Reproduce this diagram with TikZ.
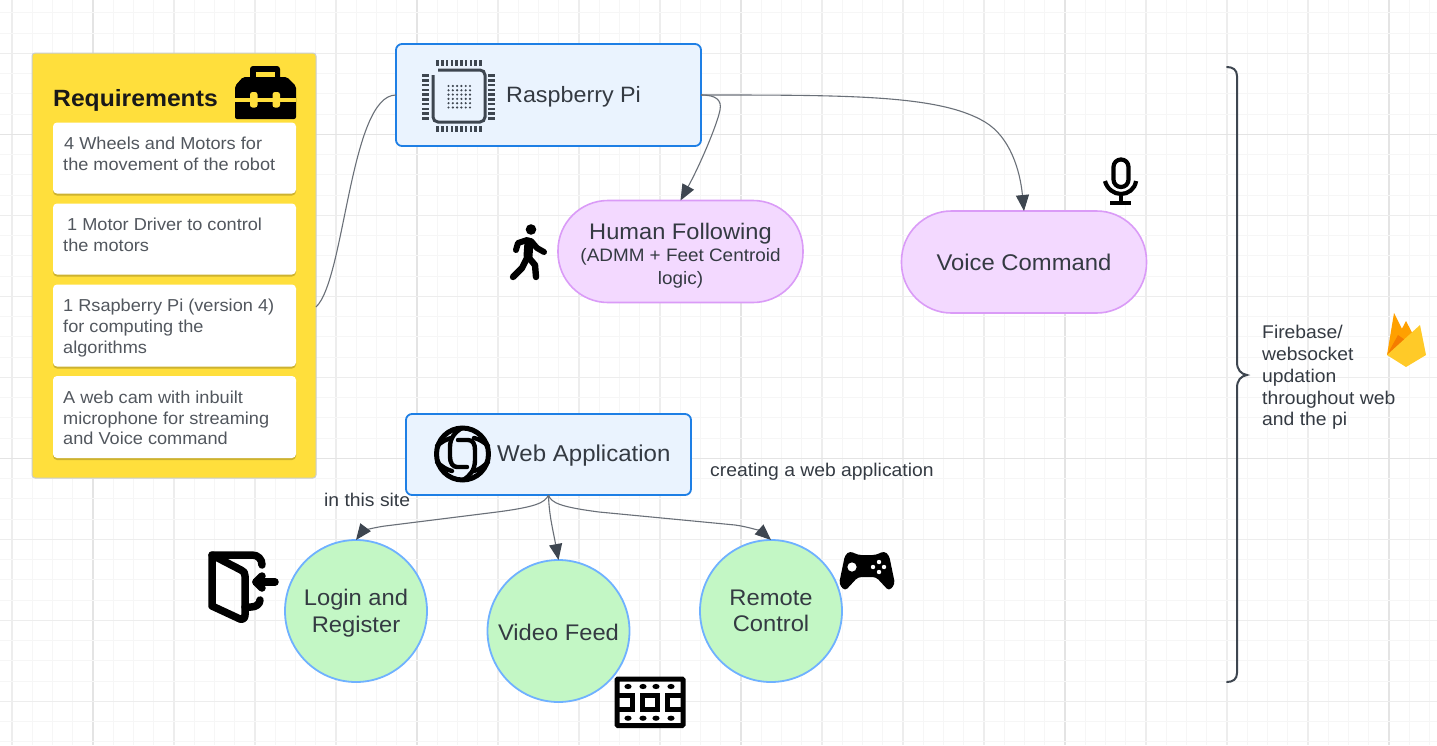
\documentclass[tikz,border=0pt]{standalone}
\usepackage{fontspec}
\setmainfont[FakeStretch=1.05]{Liberation Sans}
\usetikzlibrary{arrows.meta,calc}
\definecolor{gridmin}{HTML}{F6F6F6}
\definecolor{gridmed}{HTML}{EDEDED}
\definecolor{gridmaj}{HTML}{E4E4E4}
\definecolor{ink}{HTML}{343A42}
\definecolor{wire}{HTML}{6A7078}
\definecolor{tipc}{HTML}{3E4650}
\definecolor{reqfill}{HTML}{FFDF3C}
\definecolor{reqedge}{HTML}{C9CDD0}
\definecolor{shade}{HTML}{CDB22F}
\definecolor{bluefill}{HTML}{EAF3FE}
\definecolor{blueedge}{HTML}{1E7FE5}
\definecolor{pinkfill}{HTML}{F3D9FF}
\definecolor{pinkedge}{HTML}{DA9BF7}
\definecolor{greenfill}{HTML}{C3F7C5}
\definecolor{greenedge}{HTML}{6FB1FF}
\definecolor{fireA}{HTML}{FFA000}
\definecolor{fireB}{HTML}{F57C00}
\definecolor{fireC}{HTML}{FFCA28}
\newcommand{\fsz}[2]{\fontsize{#1pt}{#2pt}\selectfont}
\tikzset{
  x=1pt,y=-1pt,
  panel/.style={draw=reqedge,fill=reqfill,line width=1pt,rounded corners=3pt,inner sep=0,outer sep=0,minimum width=284pt,minimum height=425pt},
  card/.style={fill=white,rounded corners=4pt,inner sep=0,outer sep=0,minimum width=243pt,
     preaction={fill=shade,transform canvas={yshift=-2pt}}},
  cardtext/.style={anchor=west,align=left,inner sep=0,text=ink!85,font=\fsz{17.3}{20.8}},
  bluebox/.style={draw=blueedge,fill=bluefill,line width=1.8pt,rounded corners=6pt,inner sep=0,outer sep=0},
  pill/.style={draw=pinkedge,fill=pinkfill,line width=1.6pt,rounded corners=50pt,inner sep=0,outer sep=0,minimum width=245pt,minimum height=102pt,align=center,text=ink},
  roundel/.style={circle,draw=greenedge,fill=greenfill,line width=1.8pt,inner sep=0,outer sep=0,minimum size=142pt,align=center,text=ink,font=\fsz{22.6}{26.5}},
  plain/.style={anchor=west,align=left,inner sep=0,text=ink,font=\fsz{18.4}{21.8}},
  wirecurve/.style={draw=wire,line width=1.1pt},
  arrowed/.style={wirecurve,-{Triangle[length=16pt,width=13pt,fill=tipc,color=tipc]}},
  iconline/.style={draw=black,line cap=round,line join=round},
}
\begin{document}
\begin{tikzpicture}
\useasboundingbox (0,0) rectangle (1437,745);
\fill[white] (0,0) rectangle (1437,745);
% grid
\foreach \i in {0,...,70}{
  \pgfmathsetmacro{\px}{12+20.25*\i}
  \pgfmathtruncatemacro{\ma}{mod(\i,4)}
  \pgfmathtruncatemacro{\mb}{mod(\i+12,16)}
  \ifnum\mb=0 \draw[gridmaj,line width=1.5pt] (\px,0)--(\px,745);
  \else\ifnum\ma=0 \draw[gridmed,line width=1.2pt] (\px,0)--(\px,745);
  \else \draw[gridmin,line width=1pt] (\px,0)--(\px,745);\fi\fi
}
\foreach \i in {0,...,36}{
  \pgfmathsetmacro{\py}{12.8+20.25*\i}
  \pgfmathtruncatemacro{\ma}{mod(\i+2,4)}
  \pgfmathtruncatemacro{\mb}{mod(\i+10,16)}
  \ifnum\mb=0 \draw[gridmaj,line width=1.5pt] (0,\py)--(1437,\py);
  \else\ifnum\ma=0 \draw[gridmed,line width=1.2pt] (0,\py)--(1437,\py);
  \else \draw[gridmin,line width=1pt] (0,\py)--(1437,\py);\fi\fi
}
% requirements panel
\node[panel] (req) at (174,265.5) {};
\node[anchor=west,inner sep=0,font=\fsz{23.5}{28}\bfseries,text=black!90] (reqtitle) at (53,100.5) {Requirements};
\node[card,minimum height=71pt] (c1) at (174.5,158) {};
\node[card,minimum height=71pt] (c2) at (174.5,239) {};
\node[card,minimum height=82pt] (c3) at (174.5,325.5) {};
\node[card,minimum height=82pt] (c4) at (174.5,417) {};
\node[cardtext] (t1) at (63,154) {\hspace{1pt}4 Wheels and Motors for\\the movement of the robot};
\node[cardtext] (t2) at (63,235) {\hspace{4pt}1 Motor Driver to control\\the motors};
\node[cardtext] (t3) at (63,328) {1 Rsapberry Pi (version 4)\\for computing the\\algorithms};
\node[cardtext] (t4) at (63,418) {A web cam with inbuilt\\microphone for streaming\\and Voice command};
% toolbox icon
\fill[black,rounded corners=3pt] (250,66) rectangle (280,82);
\fill[reqfill] (255.5,72) rectangle (274.5,78);
\fill[black,rounded corners=2pt] (235,86) -- (243,77) -- (287,77) -- (296,86) -- (296,119) -- (235,119) -- cycle;
\fill[reqfill] (235,98) rectangle (296,102);
\fill[reqfill,rounded corners=2.5pt] (250,92) rectangle (257.5,107.5);
\fill[reqfill,rounded corners=2.5pt] (272.5,92) rectangle (280,107.5);
% main boxes
\node[bluebox,minimum width=305pt,minimum height=102pt] (pi) at (548.5,95) {};
\node[anchor=west,inner sep=0,text=ink,font=\fsz{22.2}{28}] (pilabel) at (506,96.5) {Raspberry Pi};
\node[pill,font=\fsz{18}{23}] (hf) at (680.5,251.5) {\rule{0pt}{24pt}{\fsz{22.5}{27}Human Following}\\[-1pt](ADMM + Feet Centroid\\logic)};
\node[pill,font=\fsz{22.7}{28}] (vc) at (1024,262) {Voice Command};
\node[bluebox,minimum width=285pt,minimum height=81pt] (web) at (548.5,454.5) {};
\node[anchor=west,inner sep=0,text=ink,font=\fsz{22.9}{28}] (weblabel) at (497,456) {Web Application};
\node[roundel] (login) at (356,611) {\rule{0pt}{21pt}Login and\\Register};
\node[roundel] (video) at (558.5,631) {\rule{0pt}{20pt}Video Feed};
\node[roundel] (remote) at (771,611) {Remote\\Control};
\node[plain] (creating) at (710,472) {creating a web application};
\node[plain] (site) at (324,500) {in this site};
\node[plain] (fb) at (1262,377.5) {Firebase/\\websocket\\updation\\throughout web\\and the pi};
% connectors
\coordinate (reqout) at (316,307);
\draw[wirecurve] (reqout) .. controls (345,280) and (350,95) .. (pi.west);
\draw[arrowed] (pi.east) .. controls (716,95) and (722,100) .. (720,110) .. controls (717,125) and (700,165) .. (hf.north);
\draw[arrowed] (pi.east) .. controls (850,95) and (940,95) .. (985,122) .. controls (1010,137) and (1020,170) .. (vc.north);
\draw[arrowed] (web.south) .. controls (545,503) and (535,507) .. (497,512) -- (385,526) .. controls (370,528) and (362,532) .. (login.north);
\draw[arrowed] (web.south) .. controls (549,515) and (553,530) .. (video.north);
\draw[arrowed] (web.south) .. controls (551,503) and (561,507) .. (599,512) -- (735,525) .. controls (750,527) and (762,532) .. (remote.north);
% brace
\draw[tipc,line width=2pt,line cap=round] (1227,67) .. controls (1233,67) and (1237,70) .. (1237,76) -- (1237,362) .. controls (1237,370) and (1241,374) .. (1247,375) .. controls (1241,376) and (1237,380) .. (1237,388) -- (1237,673) .. controls (1237,679) and (1233,682) .. (1227,682);
% chip icon
\draw[tipc,line width=3pt,rounded corners=5pt] (438,70) -- (485,70) -- (485,122) -- (433,122) -- (433,75);
\foreach \k in {0,...,9}{
  \pgfmathsetmacro{\a}{437.5+4.75*\k}
  \pgfmathsetmacro{\b}{75.5+4.75*\k}
  \draw[tipc,line width=2.5pt] (\a,60)--(\a,66);
  \draw[tipc,line width=2.5pt] (\a,126)--(\a,132);
  \draw[tipc,line width=2.5pt] (422,\b)--(429,\b);
  \draw[tipc,line width=2.5pt] (488,\b)--(495,\b);
}
\foreach \i in {0,...,5}\foreach \j in {0,...,5}{
  \fill[tipc] (448.5+4.3*\i,86+4.3*\j) circle (1.2);
}
% globe icon
\draw[iconline,line width=5pt] (462.5,454) circle (26);
\begin{scope}[iconline,line width=4.4pt]
  \draw (458,440) -- (468,440) .. controls (473,440) and (475,444) .. (475,450) -- (475,460) .. controls (475,470) and (470,476) .. (463,480);
  \draw (467,467) -- (457,467) .. controls (453,467) and (450,463) .. (450,457) -- (450,447) .. controls (450,438) and (455,432) .. (462,428);
  \draw (437,446) .. controls (441,442) and (447,439) .. (451,438);
  \draw (437,462) .. controls (441,466) and (447,470) .. (452,471);
  \draw (488,446) .. controls (484,442) and (479,439) .. (474,438);
  \draw (488,462) .. controls (484,466) and (479,470) .. (474,471);
\end{scope}
% walking person
\fill[black] (531,229.5) circle (5.3);
\begin{scope}[iconline]
  \draw[line width=9pt] (529,242) -- (528,256);
  \draw[line width=6pt] (527,240) -- (518,243) -- (516,250);
  \draw[line width=6pt] (531,241) -- (537,248) -- (544,252);
  \draw[line width=6.4pt] (527,258) -- (522,268) -- (513,277);
  \draw[line width=6.4pt] (529,258) -- (535,265) -- (536,277);
\end{scope}
% microphone
\begin{scope}[iconline,line width=4.2pt,line cap=butt]
  \draw[rounded corners=7.4pt] (1113.5,159.5) rectangle (1128.5,187);
  \draw (1105,181) .. controls (1107,189) and (1114,194) .. (1121,194) .. controls (1128,194) and (1135,189) .. (1136,181);
  \draw (1121,194) -- (1121,203);
  \draw (1110,203) -- (1131,203);
\end{scope}
% firebase
\fill[fireA] (1387,355) -- (1394,313) -- (1410,345) -- cycle;
\fill[fireA] (1396,340) -- (1406,321) -- (1418,344) -- cycle;
\fill[fireB] (1387,355) -- (1398,335) -- (1405,340) -- cycle;
\fill[fireC] (1387,355) -- (1420,325) -- (1426,355) -- (1406,367) -- cycle;
% door icon
\begin{scope}[iconline,line width=7.5pt]
  \draw (212,555) -- (212,606) -- (240,619) .. controls (243,620) and (245,618) .. (245,615) -- (245,576) .. controls (245,573) and (244,571) .. (241,570) -- cycle;
  \draw (212,555) -- (252,555) .. controls (258,555) and (262,559) .. (262,565);
  \draw (245,607) -- (251,607) .. controls (256,607) and (260,604) .. (260,600);
  \draw (275,582) -- (256,582);
  \draw (262,576) -- (256,582) -- (262,588);
\end{scope}
% film icon
\draw[black,line width=5pt,rounded corners=1pt,fill=white] (617,679) rectangle (683,725.5);
\draw[black,line width=5pt] (642.5,695) rectangle (657,709.5);
\draw[black,line width=5pt] (617,695) -- (632.5,695) -- (632.5,709.5) -- (617,709.5);
\draw[black,line width=5pt] (683,695) -- (667.5,695) -- (667.5,709.5) -- (683,709.5);
\foreach \a in {628,643,656,671}{
  \fill[black] (\a,686.5) ellipse (3.6 and 2.6);
  \fill[black] (\a,718.2) ellipse (3.6 and 2.6);
}
% gamepad
\fill[black,rounded corners=3.5pt] (850,551) -- (858,555) -- (876,555) -- (884,551) -- (889,555) -- (895,584) -- (889,591) -- (876,577) -- (858,577) -- (845,591) -- (839,584) -- (845,555) -- cycle;
\fill[white] (852,567) circle (4.6);
\foreach \a/\b in {879/562,873/567,884/567,879/572}{\fill[white] (\a,\b) circle (2.2);}
\end{tikzpicture}
\end{document}
